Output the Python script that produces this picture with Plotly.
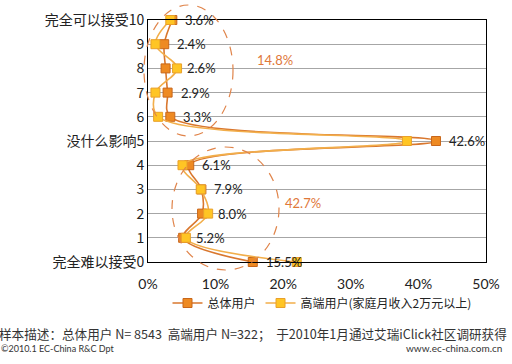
import plotly.graph_objects as go

# ---- data ----
levels = [10, 9, 8, 7, 6, 5, 4, 3, 2, 1, 0]
level_labels = ["完全可以接受10", "9", "8", "7", "6", "没什么影响5", "4", "3", "2", "1", "完全难以接受0"]
total_users = [3.6, 2.4, 2.6, 2.9, 3.3, 42.6, 6.1, 7.9, 8.0, 5.2, 15.5]
highend_users = [3.3, 1.1, 4.3, 1.1, 1.5, 38.3, 5.1, 7.8, 8.9, 5.6, 22.0]
series_names = ["总体用户", "高端用户(家庭月收入2万元以上)"]
x_ticks = [0, 10, 20, 30, 40, 50]

# geometry helpers (pixel -> paper)
W, H = 512, 364
L, R, T, B = 148, 26, 20, 102
PW, PH = W - L - R, H - T - B


def px(xp):
    return (xp - L) / PW


def py(yp):
    return (H - B - yp) / PH


CJK = "Noto Sans CJK SC"
NUM = "Lato, Noto Sans CJK SC"

fig = go.Figure()
fig.add_trace(go.Scatter(
    x=total_users, y=levels, name=series_names[0], mode="lines+markers",
    line=dict(color="#D9772E", width=1.6, shape="spline", smoothing=1.0),
    marker=dict(symbol="square", size=9, color="#EE8A22", line=dict(color="#C8661A", width=1)),
    cliponaxis=False,
))
fig.add_trace(go.Scatter(
    x=highend_users, y=levels, name=series_names[1], mode="lines+markers",
    line=dict(color="#F2AE4A", width=1.6, shape="spline", smoothing=1.0),
    marker=dict(symbol="square", size=9, color="#FFC524", line=dict(color="#E9A02A", width=1)),
    cliponaxis=False,
))

annotations = []
for lv, t, h in zip(levels, total_users, highend_users):
    if h > t and h - t < 3:
        ax, sh = h, 8
    else:
        ax, sh = t, 11
    annotations.append(dict(x=ax, y=lv, xref="x", yref="y", text=f"{t:.1f}%",
                            showarrow=False, xanchor="left", yanchor="middle", xshift=sh,
                            font=dict(family=NUM, size=13, color="#222222")))

# group sums
upper_sum = sum(total_users[0:5])
lower_sum = sum(total_users[6:11])
annotations.append(dict(x=px(255), y=py(60), xref="paper", yref="paper", text=f"{upper_sum:.1f}%",
                        showarrow=False, xanchor="left", yanchor="middle",
                        font=dict(family=NUM, size=13, color="#E0783A")))
annotations.append(dict(x=px(283), y=py(203), xref="paper", yref="paper", text=f"{lower_sum:.1f}%",
                        showarrow=False, xanchor="left", yanchor="middle",
                        font=dict(family=NUM, size=13, color="#E0783A")))

# footer
annotations.append(dict(x=px(-3), y=py(333), xref="paper", yref="paper",
                        text="样本描述：总体用户 N= 8543  高端用户 N=322；  于2010年1月通过艾瑞iClick社区调研获得",
                        showarrow=False, xanchor="left", yanchor="middle",
                        font=dict(family=CJK, size=12.6, color="#333333")))
annotations.append(dict(x=px(-1), y=py(348), xref="paper", yref="paper",
                        text="©2010.1 EC-China R&C Dpt",
                        showarrow=False, xanchor="left", yanchor="middle",
                        font=dict(family=NUM, size=9, color="#333333")))
annotations.append(dict(x=px(504), y=py(348), xref="paper", yref="paper",
                        text="www.ec-china.com.cn",
                        showarrow=False, xanchor="right", yanchor="middle",
                        font=dict(family=NUM, size=10, color="#333333")))

shapes = [
    dict(type="circle", xref="paper", yref="paper", x0=px(144), x1=px(233), y0=py(136), y1=py(5),
         line=dict(color="#E0844A", width=1.2, dash="dash")),
    dict(type="circle", xref="paper", yref="paper", x0=px(172), x1=px(279), y0=py(270), y1=py(147),
         line=dict(color="#E0844A", width=1.2, dash="dash")),
]

fig.update_layout(
    width=W, height=H,
    margin=dict(l=L, r=R, t=T, b=B, autoexpand=False),
    paper_bgcolor="white", plot_bgcolor="white",
    showlegend=True,
    legend=dict(orientation="h", x=px(322), xanchor="center", y=py(303), yanchor="middle",
                font=dict(family=CJK, size=12, color="#222222"), itemwidth=30,
                bgcolor="rgba(0,0,0,0)"),
    annotations=annotations,
    shapes=shapes,
    xaxis=dict(range=[0, 50], tickvals=x_ticks, ticktext=[f"{v}%" for v in x_ticks],
               showgrid=False, zeroline=False, showline=True, mirror=True, linecolor="black",
               linewidth=1, ticks="", tickfont=dict(family=NUM, size=14, color="#222222"),
               ticklabelstandoff=9, automargin=False),
    yaxis=dict(range=[0, 10], tickvals=levels, ticktext=level_labels,
               showgrid=True, gridcolor="#A6A6A6", gridwidth=1, zeroline=False,
               showline=True, mirror=True, linecolor="black", linewidth=1, ticks="",
               tickfont=dict(family=CJK, size=14, color="#222222"), automargin=False),
)

fig.write_html("out.html", config={"displayModeBar": False},
               post_script="document.body.style.margin='0';document.body.style.overflow='hidden';")
